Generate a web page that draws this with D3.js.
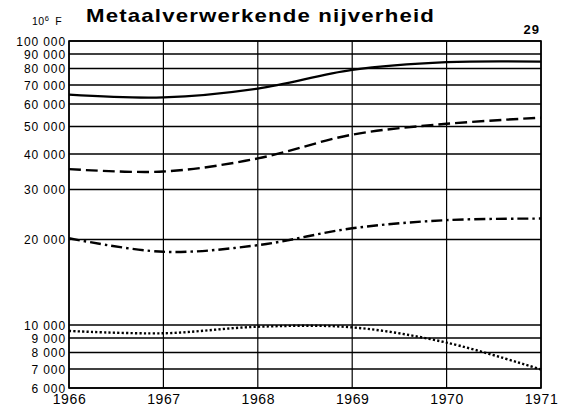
<!DOCTYPE html>
<html>
<head>
<meta charset="utf-8">
<script src="https://cdn.jsdelivr.net/npm/d3@7"></script>
<style>
  body { margin: 0; background: #fff; }
  text { font-family: "Liberation Sans", Arial, sans-serif; fill: #000; }
</style>
</head>
<body>
<div id="chart"></div>
<script>
const years = [1966, 1967, 1968, 1969, 1970, 1971];
const seriesSolid = [64700, 63300, 68000, 79100, 84200, 84600];
const seriesDashed = [35400, 34700, 38600, 46800, 51100, 53700];
const seriesDashDot = [20200, 18100, 19100, 21900, 23400, 23700];
const seriesDotted = [9530, 9350, 9860, 9810, 8670, 6970];
const yTicks = [6000, 7000, 8000, 9000, 10000, 20000, 30000, 40000, 50000,
  60000, 70000, 80000, 90000, 100000];

const W = 564, H = 414;
const margin = { top: 41, right: 23, bottom: 26, left: 69 },
  width = W - margin.left - margin.right,
  height = H - margin.top - margin.bottom;

const svg = d3
  .select("#chart")
  .append("svg")
  .attr("width", W)
  .attr("height", H);

// Title, unit and page number
svg.append("text")
  .attr("x", 86).attr("y", 22)
  .attr("textLength", 349).attr("lengthAdjust", "spacingAndGlyphs")
  .style("font-size", "19px").style("font-weight", "bold")
  .style("letter-spacing", "1px")
  .text("Metaalverwerkende nijverheid");
const unit = svg.append("text")
  .attr("x", 32).attr("y", 25)
  .style("font-size", "10.5px").style("letter-spacing", "0.5px");
unit.append("tspan").text("10");
unit.append("tspan").attr("dy", -4).style("font-size", "7.5px").text("6");
unit.append("tspan").attr("dy", 4).attr("dx", 6).text("F");
svg.append("text")
  .attr("x", 540).attr("y", 34)
  .attr("text-anchor", "end")
  .style("font-size", "13px").style("font-weight", "bold")
  .style("letter-spacing", "1px")
  .text("29");

const g = svg.append("g")
  .attr("transform", `translate(${margin.left},${margin.top})`);

const x = d3.scaleLinear().domain([1966, 1971]).range([0, width]);
const y = d3.scaleLog().domain([6000, 100000]).range([height, 0]);

// Grid
g.append("g")
  .selectAll("line")
  .data(yTicks)
  .join("line")
  .attr("x1", 0).attr("x2", width)
  .attr("y1", (d) => y(d)).attr("y2", (d) => y(d))
  .attr("stroke", "#000").attr("stroke-width", 1.3);
g.append("g")
  .selectAll("line")
  .data(years)
  .join("line")
  .attr("x1", (d) => x(d)).attr("x2", (d) => x(d))
  .attr("y1", 0).attr("y2", height)
  .attr("stroke", "#000").attr("stroke-width", 1.2);
g.append("rect")
  .attr("width", width).attr("height", height)
  .attr("fill", "none").attr("stroke", "#000").attr("stroke-width", 1.6);

// Axes
const fmt = (d) => d3.format(",")(d).replace(",", " ");
const yAxis = g.append("g")
  .call(d3.axisLeft(y).tickValues(yTicks).tickFormat(fmt).tickSize(0).tickPadding(3));
yAxis.select(".domain").remove();
yAxis.selectAll("text")
  .style("font-size", "12px")
  .style("letter-spacing", "0.9px")
  .attr("dy", "0.36em");

const xAxis = g.append("g")
  .attr("transform", `translate(0,${height})`)
  .call(d3.axisBottom(x).tickValues(years).tickFormat(d3.format("d")).tickSize(0).tickPadding(6));
xAxis.select(".domain").remove();
xAxis.selectAll("text")
  .style("font-size", "14px")
  .style("letter-spacing", "0.6px");

// Series
const line = d3.line()
  .x((d, i) => x(years[i]))
  .y((d) => y(d))
  .curve(d3.curveCatmullRom.alpha(0.5));

const series = [
  { values: seriesSolid, dash: null, w: 2.2 },
  { values: seriesDashed, dash: "12 5", w: 2.4 },
  { values: seriesDashDot, dash: "11 4 2.5 4", w: 2.4 },
  { values: seriesDotted, dash: "2.2 2.2", w: 2.4 },
];

g.selectAll(".series")
  .data(series)
  .join("path")
  .attr("class", "series")
  .attr("d", (d) => line(d.values))
  .attr("fill", "none")
  .attr("stroke", "#000")
  .attr("stroke-width", (d) => d.w)
  .attr("stroke-dasharray", (d) => d.dash);
</script>
</body>
</html>
